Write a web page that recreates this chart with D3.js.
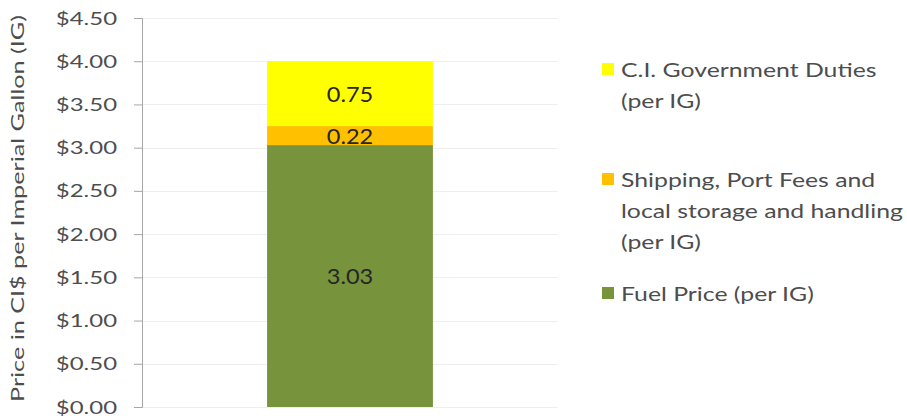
<!DOCTYPE html>
<html>
<head>
<meta charset="utf-8">
<script src="https://cdn.jsdelivr.net/npm/d3@7"></script>
<style>
  body { margin: 0; background: #fff; }
  svg { display: block; font-family: Lato, "Open Sans", sans-serif; }
</style>
</head>
<body>
<div id="chart"></div>
<script>
// chart data
const categories = ["Price"];
const seriesNames = ["Fuel Price (per IG)", "Shipping, Port Fees and local storage and handling (per IG)", "C.I. Government Duties (per IG)"];
const seriesValues = [3.03, 0.22, 0.75];
const seriesColors = ["#77933C", "#FFC000", "#FFFF00"];
const legendLines = [
    ["C.I. Government Duties", "(per IG)"],
    ["Shipping, Port Fees and", "local storage and handling", "(per IG)"],
    ["Fuel Price (per IG)"]
];
const tickValues = [0, 0.5, 1, 1.5, 2, 2.5, 3, 3.5, 4, 4.5];
const yTitle = "Price in CI$ per Imperial Gallon (IG)";

const width = 907, height = 419;
const margin = { top: 18, right: 349, bottom: 12, left: 142 };

const svg = d3.select("#chart").append("svg")
    .attr("width", width)
    .attr("height", height);

const x = d3.scaleBand()
    .domain(categories)
    .range([margin.left, width - margin.right])
    .padding(0.43);

const y = d3.scaleLinear()
    .domain([0, 4.5])
    .range([height - margin.bottom, margin.top]);

// gridlines
svg.append("g")
    .selectAll("line")
    .data(tickValues)
    .enter()
    .append("line")
    .attr("x1", margin.left)
    .attr("x2", width - margin.right)
    .attr("y1", d => Math.round(y(d)) + 0.5)
    .attr("y2", d => Math.round(y(d)) + 0.5)
    .attr("stroke", "#eeeeee")
    .attr("stroke-width", 1);

// stacked segments
let base = 0;
const stacked = seriesValues.map((v, i) => {
    const d = { name: seriesNames[i], value: v, y0: base, y1: base + v, color: seriesColors[i] };
    base += v;
    return d;
});

svg.append("g")
    .selectAll("rect")
    .data(stacked)
    .enter()
    .append("rect")
    .attr("x", x(categories[0]))
    .attr("width", x.bandwidth())
    .attr("y", d => y(d.y1))
    .attr("height", d => y(d.y0) - y(d.y1))
    .attr("fill", d => d.color);

// value labels
svg.append("g")
    .selectAll("text")
    .data(stacked)
    .enter()
    .append("text")
    .attr("transform", d => `translate(${x(categories[0]) + x.bandwidth() / 2},${(y(d.y0) + y(d.y1)) / 2 + 8}) scale(1.07,1)`)
    .attr("text-anchor", "middle")
    .attr("font-size", "22px")
    .attr("fill", "#262626")
    .text(d => d.value.toFixed(2));

// y axis
const yAxis = svg.append("g")
    .attr("transform", `translate(${margin.left},0)`)
    .call(d3.axisLeft(y).tickValues(tickValues).tickSize(8).tickFormat(d => "$" + d.toFixed(2)));

yAxis.select(".domain").attr("stroke", "#a6a6a6");
yAxis.selectAll(".tick line").attr("stroke", "#a6a6a6");
yAxis.selectAll(".tick text")
    .attr("x", null)
    .attr("dy", null)
    .attr("transform", "translate(-25,6) scale(1.33,1)")
    .attr("font-size", "18px")
    .attr("font-family", "Lato, sans-serif")
    .attr("fill", "#4d4d4d");

// y title
svg.append("text")
    .attr("transform", `translate(24,${(margin.top + height - margin.bottom) / 2 - 4}) rotate(-90) scale(1.4,1)`)
    .attr("text-anchor", "middle")
    .attr("font-size", "18px")
    .attr("fill", "#4d4d4d")
    .text(yTitle);

// legend
const legendTop = [77, 187, 301];
const legend = svg.append("g");
legendLines.forEach((lines, i) => {
    const color = seriesColors[seriesColors.length - 1 - i];
    const g = legend.append("g");
    g.append("rect")
        .attr("x", 602)
        .attr("y", legendTop[i] - 14)
        .attr("width", 12)
        .attr("height", 12)
        .attr("fill", color);
    lines.forEach((t, j) => {
        g.append("text")
            .attr("transform", `translate(621,${legendTop[i] + j * 31}) scale(1.24,1)`)
            .attr("font-size", "20px")
            .attr("fill", "#4d4d4d")
            .text(t);
    });
});
</script>
</body>
</html>
